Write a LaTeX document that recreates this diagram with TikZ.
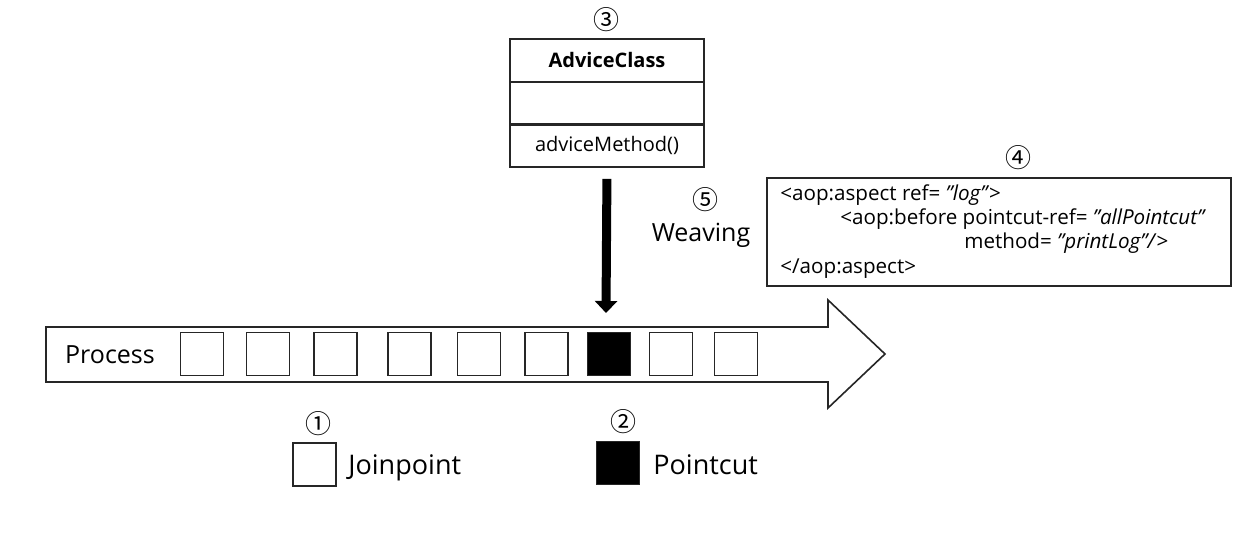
\documentclass[tikz,border=0pt]{standalone}
\usepackage{fontspec}
\setmainfont{Open Sans}
\newfontfamily\cjk{Noto Sans CJK KR}
\newcommand\dq{\char34\relax}
\usetikzlibrary{arrows.meta}
\begin{document}
\begin{tikzpicture}[x=0.5pt,y=-0.5pt,
  box/.style={draw=black!85, line width=0.8pt},
  jp/.style={box, fill=white, minimum width=21.5pt, minimum height=21.5pt, inner sep=0pt},
  pc/.style={jp, fill=black},
  num/.style={font=\cjk\fontsize{13}{15}\selectfont, inner sep=0pt},
  lbl/.style={font=\fontsize{12.5}{15}\selectfont, inner sep=0pt},
  leg/.style={font=\fontsize{13.5}{16}\selectfont, inner sep=0pt},
  code/.style={font=\fontsize{10.3}{12}\selectfont, anchor=mid west, inner sep=0pt},
  clsrow/.style={box, minimum width=97pt, minimum height=21.5pt, inner sep=0pt, font=\fontsize{10}{12}\selectfont}]

\useasboundingbox[fill=white] (0,0) rectangle (1260,540);

% process arrow
\draw[box] (46,327) -- (828,327) -- (828,300) -- (885,354) -- (828,408) -- (828,382) -- (46,382) -- cycle;
\node[lbl] (proc) at (110,355) {Process};
\foreach \n/\x in {1/202,2/268,3/335.5,4/409.5,5/479,6/546.5,8/671,9/736}
  \node[jp] (j\n) at (\x,354) {};
\node[pc] (j7) at (609,354) {};

% advice class
\node[clsrow] (cls1) at (607,60.5) {\bfseries AdviceClass};
\node[clsrow] (cls2) at (607,103.5) {};
\node[clsrow] (cls3) at (607,145.5) {adviceMethod()};
\node[num] (n3) at (606,20) {③};

% weaving
\coordinate (wtip) at (606,313);
\draw[line width=4.5pt, -{Triangle[width=11pt,length=6pt]}, shorten <=5.5pt] (cls3.south) -- (wtip);
\node[num] (n5) at (705,200) {⑤};
\node[lbl, anchor=base] (weav) at (701,242) {Weaving};

% code box
\node[box, minimum width=232pt, minimum height=54pt, inner sep=0pt] (codebox) at (999,232) {};
\node[num] (n4) at (1018,158) {④};
\node[code] (c1) at (780,195) {<aop:aspect ref= \textit{\dq log\dq}>};
\node[code] (c2) at (840,219) {<aop:before pointcut-ref= \textit{\dq allPointcut\dq}};
\node[code] (c3) at (964,243) {method= \textit{\dq printLog\dq/}>};
\node[code] (c4) at (780,268) {</aop:aspect>};

% legend
\node[num] (n1) at (318,424) {①};
\node[jp] (legj) at (314.5,464.5) {};
\node[leg, anchor=base west] (legjt) at (348,474) {Joinpoint};
\node[num] (n2) at (623,422) {②};
\node[pc] (legp) at (618,463) {};
\node[leg, anchor=base west] (legpt) at (653,474) {Pointcut};
\end{tikzpicture}
\end{document}
